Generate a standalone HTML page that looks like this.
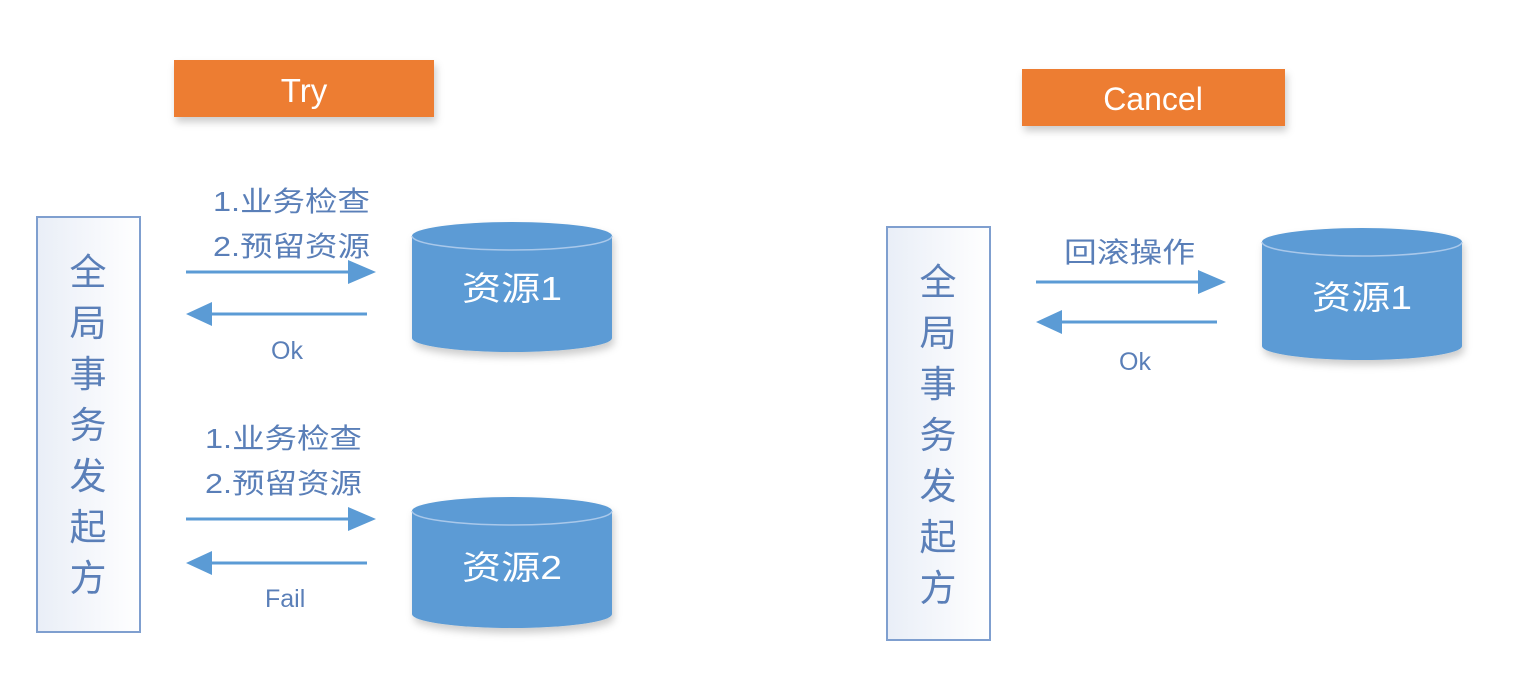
<!DOCTYPE html>
<html><head><meta charset="utf-8"><style>
body{margin:0;background:#fff;width:1515px;height:671px;overflow:hidden}
svg text{font-family:"Liberation Sans","Noto Sans CJK SC",sans-serif}
</style></head><body>
<svg width="1515" height="671" viewBox="0 0 1515 671">
<defs>
<filter id="sh" x="-10%" y="-10%" width="130%" height="140%"><feDropShadow dx="2" dy="5" stdDeviation="4" flood-color="#000" flood-opacity="0.2"/></filter>
<linearGradient id="bx" x1="0" x2="1"><stop offset="0" stop-color="#e9eef7"/><stop offset="1" stop-color="#fff"/></linearGradient>
</defs>
<rect x="174" y="60" width="260" height="57" fill="#ed7d31" filter="url(#sh)"/>
<text x="304" y="102" font-size="33" fill="#fff" text-anchor="middle">Try</text>
<rect x="1022" y="69" width="263" height="57" fill="#ed7d31" filter="url(#sh)"/>
<text x="1153" y="110" font-size="32" fill="#fff" text-anchor="middle">Cancel</text>
<rect x="37" y="217" width="103" height="415" fill="url(#bx)" stroke="#7f9fcf" stroke-width="2"/>
<rect x="887" y="227" width="103" height="413" fill="url(#bx)" stroke="#7f9fcf" stroke-width="2"/>
<g font-size="37" fill="#5a7fb8" text-anchor="middle">
<text x="88" y="285">全</text><text x="88" y="336">局</text><text x="88" y="387">事</text><text x="88" y="438">务</text><text x="88" y="489">发</text><text x="88" y="540">起</text><text x="88" y="591">方</text>
<text x="938" y="295">全</text><text x="938" y="346">局</text><text x="938" y="397">事</text><text x="938" y="448">务</text><text x="938" y="499">发</text><text x="938" y="550">起</text><text x="938" y="601">方</text>
</g>
<g filter="url(#sh)" fill="#5b9bd5">
<path d="M412 236 A100 14 0 0 1 612 236 V338 A100 14 0 0 1 412 338 Z"/>
<path d="M412 511 A100 14 0 0 1 612 511 V614 A100 14 0 0 1 412 614 Z"/>
<path d="M1262 242 A100 14 0 0 1 1462 242 V346 A100 14 0 0 1 1262 346 Z"/>
</g>
<g fill="none" stroke="#a9c8ea" stroke-width="1.5">
<path d="M412 236 A100 14 0 0 0 612 236"/>
<path d="M412 511 A100 14 0 0 0 612 511"/>
<path d="M1262 242 A100 14 0 0 0 1462 242"/>
</g>
<g font-size="33" fill="#fff">
<text x="462" y="300" textLength="100" lengthAdjust="spacingAndGlyphs">资源1</text>
<text x="462" y="579" textLength="100" lengthAdjust="spacingAndGlyphs">资源2</text>
<text x="1312" y="309" textLength="100" lengthAdjust="spacingAndGlyphs">资源1</text>
</g>
<g stroke="#5b9bd5" stroke-width="3">
<line x1="186" y1="272" x2="350" y2="272"/><line x1="210" y1="314" x2="367" y2="314"/>
<line x1="186" y1="519" x2="350" y2="519"/><line x1="210" y1="563" x2="367" y2="563"/>
<line x1="1036" y1="282" x2="1200" y2="282"/><line x1="1060" y1="322" x2="1217" y2="322"/>
</g>
<g fill="#5b9bd5">
<path d="M348 260 L376 272 L348 284Z"/><path d="M212 302 L186 314 L212 326Z"/>
<path d="M348 507 L376 519 L348 531Z"/><path d="M212 551 L186 563 L212 575Z"/>
<path d="M1198 270 L1226 282 L1198 294Z"/><path d="M1062 310 L1036 322 L1062 334Z"/>
</g>
<g font-size="28" fill="#5a7fb8">
<text x="213" y="211" textLength="157" lengthAdjust="spacingAndGlyphs">1.业务检查</text>
<text x="213" y="256" textLength="157" lengthAdjust="spacingAndGlyphs">2.预留资源</text>
<text x="271" y="359" font-size="25">Ok</text>
<text x="205" y="448" textLength="157" lengthAdjust="spacingAndGlyphs">1.业务检查</text>
<text x="205" y="493" textLength="157" lengthAdjust="spacingAndGlyphs">2.预留资源</text>
<text x="265" y="607" font-size="25">Fail</text>
<text x="1064" y="262" textLength="131" lengthAdjust="spacingAndGlyphs">回滚操作</text>
<text x="1119" y="370" font-size="25">Ok</text>
</g>
</svg>
</body></html>
